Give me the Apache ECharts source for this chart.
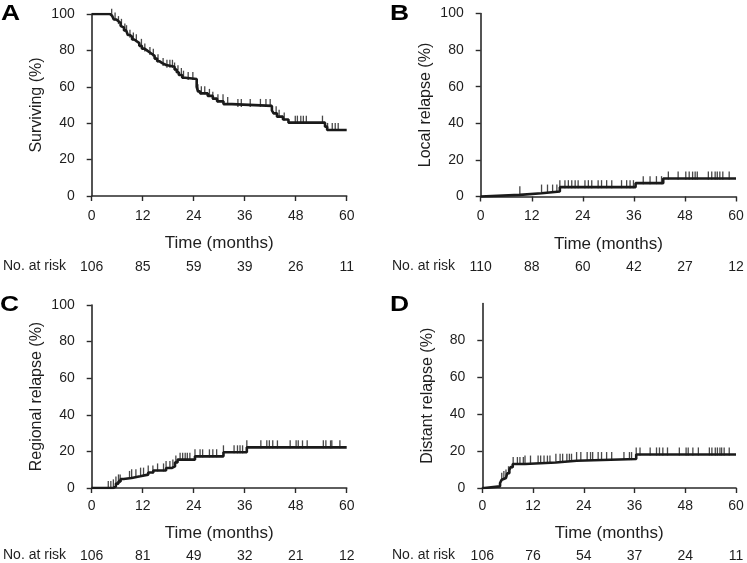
<!DOCTYPE html>
<html><head><meta charset="utf-8">
<script src="https://cdn.jsdelivr.net/npm/echarts@6/dist/echarts.min.js"></script>
<style>html,body{margin:0;padding:0;background:#fff}#c{width:747px;height:563px}</style>
</head><body><div id="c"></div>
<script>
// ---- Data (months, percent) ----
const xTicks = [0, 12, 24, 36, 48, 60];

const survTimes = [0, 4.3, 4.8, 5.2, 5.8, 6.3, 6.8, 7.2, 7.6, 8.1, 8.5, 9.0, 9.5, 10.0, 10.6, 11.2, 11.8, 12.4, 13.0, 13.6, 14.2, 14.8, 15.4, 16.0, 16.6, 17.5, 19.5, 20.0, 20.5, 21.3, 22.0, 24.7, 25.0, 25.5, 27.3, 28.5, 29.5, 31.0, 33.0, 42.4, 42.8, 43.6, 45.0, 46.3, 54.9, 55.4];
const survValues = [100, 99, 98, 97, 96, 95, 93.5, 92.5, 91, 90, 88.5, 87.5, 86, 85, 84, 82.5, 81, 80, 79, 78, 77, 75.5, 74, 73, 72, 71, 69.5, 68, 66.5, 65, 64.3, 60, 57.5, 56.4, 55, 53.5, 52, 50.5, 49.5, 47, 45.4, 43.6, 42, 40.3, 38.1, 36.3];
const survCensor = [4.7, 5.5, 6.3, 7.0, 7.8, 8.2, 9.0, 9.8, 10.5, 11.7, 12.5, 13.7, 14.5, 15.6, 16.8, 17.7, 18.4, 19.0, 19.5, 20.3, 21.1, 21.6, 22.7, 23.8, 25.0, 25.8, 26.6, 27.7, 28.5, 29.7, 30.9, 32.0, 34.4, 35.2, 37.3, 39.7, 41.0, 42.0, 43.4, 44.1, 45.3, 47.9, 48.4, 49.2, 49.8, 50.5, 54.3, 55.5, 56.6, 57.3, 58.0];
const survRisk = [106, 85, 59, 39, 26, 11];

const localTimes = [0, 0.3, 9.2, 14.3, 18.6, 36.4, 42.9];
const localValues = [0, 0.9, 1.8, 2.7, 5.1, 7.3, 9.8];
const localCensor = [9.2, 14.3, 15.7, 16.9, 17.9, 18.6, 19.8, 20.6, 21.4, 22.2, 22.9, 24.5, 25.3, 26.1, 27.6, 28.4, 29.6, 30.8, 33.1, 34.3, 35.1, 35.9, 38.2, 39.8, 41.3, 42.5, 44.1, 46.4, 48.2, 49.0, 49.8, 50.4, 50.9, 53.5, 54.3, 55.1, 55.6, 56.2, 56.9, 58.4];
const localRisk = [110, 88, 60, 42, 27, 12];

const regTimes = [0, 5.1, 5.7, 6.3, 6.8, 7.5, 9.4, 11.4, 13.3, 14.5, 17.5, 18.8, 19.6, 20.2, 24.3, 31.0, 36.5];
const regValues = [0, 0.9, 2.4, 3.6, 4.9, 5.5, 6.4, 7.3, 8.5, 9.6, 10.9, 11.8, 14.0, 15.5, 17.3, 19.5, 22.2];
const regCensor = [3.9, 4.5, 5.1, 5.7, 6.3, 6.7, 8.9, 9.4, 10.4, 11.5, 12.2, 13.3, 14.4, 15.5, 16.9, 17.5, 18.4, 19.1, 19.8, 20.8, 21.4, 22.0, 22.5, 23.1, 24.3, 25.5, 26.1, 27.7, 28.5, 29.4, 31.0, 33.5, 34.3, 34.9, 35.5, 36.5, 39.8, 41.2, 41.8, 42.6, 43.7, 46.7, 48.1, 48.6, 49.6, 50.7, 54.5, 55.1, 56.2, 56.5, 58.4];
const regRisk = [106, 81, 49, 32, 21, 12];

const distTimes = [0, 0.5, 4.2, 4.6, 5.0, 5.6, 5.9, 6.4, 6.7, 7.2, 10.1, 17.4, 22.3, 36.4];
const distValues = [0, 0.9, 2.7, 4.5, 5.4, 6.3, 8.0, 9.8, 11.3, 13.0, 13.8, 14.8, 15.7, 18.2];
const distCensor = [4.6, 5.1, 5.6, 6.2, 7.3, 8.3, 8.9, 9.7, 10.1, 11.4, 13.2, 13.8, 14.6, 15.4, 16.0, 17.4, 18.4, 19.0, 20.0, 20.6, 21.1, 22.3, 23.3, 24.8, 25.6, 26.1, 27.4, 28.2, 29.4, 30.6, 33.5, 34.8, 35.3, 36.4, 37.3, 39.7, 41.2, 41.9, 42.7, 43.8, 46.6, 48.2, 48.7, 49.8, 51.1, 53.7, 54.3, 55.1, 55.6, 56.2, 56.6, 57.2, 58.4];
const distRisk = [106, 76, 54, 37, 24, 11];

const yTitles = ['Surviving (%)', 'Local relapse (%)', 'Regional relapse (%)', 'Distant relapse (%)'];
const panelLetters = ['A', 'B', 'C', 'D'];
const xTitle = 'Time (months)';
const riskTitle = 'No. at risk';

// ---- Build ----
const panels = [
  {t: survTimes, v: survValues, c: survCensor, r: survRisk},
  {t: localTimes, v: localValues, c: localCensor, r: localRisk},
  {t: regTimes, v: regValues, c: regCensor, r: regRisk},
  {t: distTimes, v: distValues, c: distCensor, r: distRisk}
];
const grids = [
  {left: 91.7, top: 14, width: 255, height: 182},
  {left: 480.7, top: 13.5, width: 255.3, height: 183},
  {left: 91.7, top: 305, width: 255, height: 183.3},
  {left: 482.3, top: 303.6, width: 253.7, height: 184.7}
];
const FONT = 'Liberation Sans, Arial, sans-serif';
const TXT = '#1e1e1e';
const AX = '#2a2a2a';
function stepAt(ts, vs, x) {
  let y = vs[0];
  for (let i = 0; i < ts.length; i++) { if (ts[i] <= x) y = vs[i]; }
  return y;
}
const xAxes = [], yAxes = [], series = [];
const bottomPanel = [false, false, true, true];
panels.forEach((p, i) => {
  const bot = bottomPanel[i];
  xAxes.push({
    type: 'value', gridIndex: i, min: 0, max: 60, interval: 12,
    axisLine: {lineStyle: {color: AX, width: 1.6}},
    axisTick: {length: 5, lineStyle: {color: AX, width: 1.4}},
    splitLine: {show: false},
    axisLabel: {color: TXT, fontSize: 14, fontFamily: FONT, margin: bot ? 11 : 13},
    name: xTitle, nameLocation: 'middle', nameGap: bot ? 37 : 39,
    nameTextStyle: {color: TXT, fontSize: 17, fontFamily: FONT, verticalAlign: 'top'}
  });
  xAxes.push({
    type: 'value', gridIndex: i, min: 0, max: 60, interval: 12, position: 'bottom',
    offset: bot ? 61 : 64,
    axisLine: {show: false}, axisTick: {show: false}, splitLine: {show: false},
    axisLabel: {color: TXT, fontSize: 14, fontFamily: FONT, margin: 0,
      formatter: (v) => String(p.r[Math.round(v / 12)])}
  });
  const yTicks = i === 3 ? [0, 20, 40, 60, 80] : [0, 20, 40, 60, 80, 100];
  yAxes.push({
    type: 'value', gridIndex: i, min: 0, max: 100, interval: 20,
    axisLine: {show: true, lineStyle: {color: AX, width: 1.6}},
    axisTick: {show: true, length: 5, lineStyle: {color: AX, width: 1.4}, customValues: yTicks},
    splitLine: {show: false},
    axisLabel: {color: TXT, fontSize: 14, fontFamily: FONT, margin: 17, customValues: yTicks},
    name: yTitles[i], nameLocation: 'middle', nameGap: 47,
    nameTextStyle: {color: TXT, fontSize: 16, fontFamily: FONT}
  });
  const lineData = p.t.map((t, k) => [t, p.v[k]]);
  lineData.push([60, p.v[p.v.length - 1]]);
  series.push({
    type: 'line', step: 'end', xAxisIndex: 2 * i, yAxisIndex: i, data: lineData,
    symbol: 'none', lineStyle: {color: '#1a1a1a', width: 2.6}, silent: true, animation: false
  });
  series.push({
    type: 'scatter', xAxisIndex: 2 * i, yAxisIndex: i,
    data: p.c.map(t => [t, stepAt(p.t, p.v, t)]),
    symbol: 'rect', symbolSize: [1.3, 8], symbolOffset: [0, -3],
    itemStyle: {color: '#1a1a1a'}, silent: true, animation: false
  });
});
const graphics = [];
const letterPos = [[1, 3], [390, 3], [0, 294], [390, 294]];
panelLetters.forEach((L, i) => {
  graphics.push({type: 'text', x: letterPos[i][0], y: letterPos[i][1], scaleX: 1.2,
    style: {text: L, font: 'bold 22px ' + FONT, fill: '#000'}});
});
const riskPos = [[3, 266], [392, 266], [3, 555], [392, 555]];
riskPos.forEach(pp => {
  graphics.push({type: 'text', x: pp[0], y: pp[1],
    style: {text: riskTitle, font: '14px ' + FONT, fill: TXT, textVerticalAlign: 'middle'}});
});
const chart = echarts.init(document.getElementById('c'), null, {renderer: 'canvas'});
chart.setOption({
  animation: false,
  backgroundColor: '#fff',
  grid: grids,
  xAxis: xAxes,
  yAxis: yAxes,
  series: series,
  graphic: graphics
});
</script></body></html>
